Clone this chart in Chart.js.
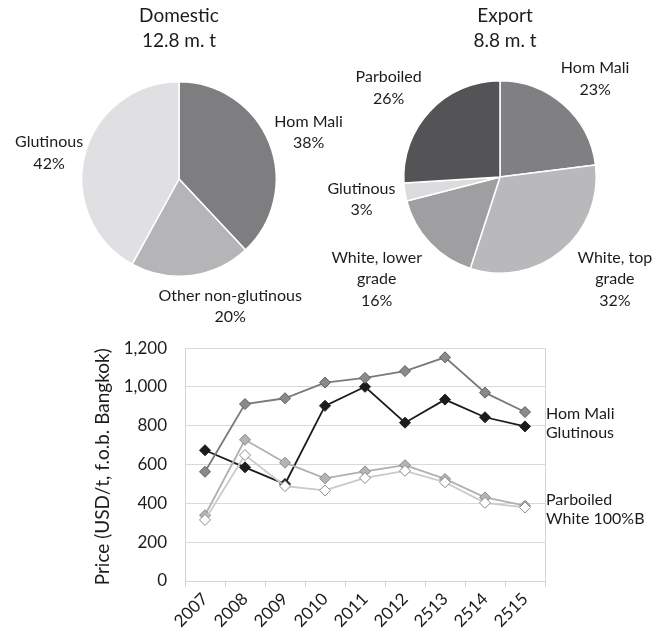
<!DOCTYPE html>
<html>
<head>
<meta charset="utf-8">
<script src="https://cdn.jsdelivr.net/npm/chart.js@4/dist/chart.umd.min.js"></script>
<style>
  html, body { margin: 0; padding: 0; background: #fff; }
  #wrap { position: relative; width: 655px; height: 634px; }
  #wrap canvas { position: absolute; }
  #domestic { left: 0; top: 0; }
  #export { left: 325px; top: 0; }
  #prices { left: 0; top: 320px; }
</style>
</head>
<body>
<div id="wrap">
  <canvas id="domestic" width="380" height="340"></canvas>
  <canvas id="export" width="330" height="340"></canvas>
  <canvas id="prices" width="655" height="314"></canvas>
</div>
<script>
// Rice use shares (%)
const domesticLabels = [['Hom Mali', '38%'], ['Other non-glutinous', '20%'], ['Glutinous', '42%']];
const domesticShares = [38, 20, 42];
const exportLabels = [['Hom Mali', '23%'], ['White, top', 'grade', '32%'], ['White, lower', 'grade', '16%'], ['Glutinous', '3%'], ['Parboiled', '26%']];
const exportShares = [23, 32, 16, 3, 26];

// Export prices, USD/t f.o.b. Bangkok
const years = ['2007', '2008', '2009', '2010', '2011', '2012', '2513', '2514', '2515'];
const homMali   = [563, 912, 942, 1023, 1047, 1082, 1153, 971, 871];
const glutinous = [674, 586, 500, 903, 1001, 816, 935, 844, 797];
const parboiled = [339, 728, 610, 529, 565, 597, 526, 431, 388];
const white100B = [315, 649, 489, 467, 531, 568, 509, 403, 379];
const yTicks = [0, 200, 400, 600, 800, 1000, 1200];

const FONT = 'Lato, "Open Sans", sans-serif';
const TEXT = '#1c1c1c';

// Writes the two-line title and the outside slice labels of a pie
const pieText = {
  id: 'pieText',
  afterDraw(chart, args, opts) {
    const ctx = chart.ctx;
    const arcs = chart.getDatasetMeta(0).data;
    ctx.save();
    ctx.fillStyle = TEXT;
    ctx.textAlign = 'center';
    ctx.textBaseline = 'middle';
    ctx.font = '19px ' + FONT;
    const cx = arcs[0].x;
    opts.title.forEach((t, i) => ctx.fillText(t, cx + opts.titleDx, opts.titleY + i * 25));
    ctx.font = '16px ' + FONT;
    arcs.forEach((arc, i) => {
      const mid = (arc.startAngle + arc.endAngle) / 2;
      const d = arc.outerRadius + 40;
      const nudge = opts.nudge[i];
      const x = arc.x + Math.cos(mid) * d + nudge[0];
      const y = arc.y + Math.sin(mid) * d + nudge[1];
      const lines = opts.labels[i];
      const lh = 21.5;
      lines.forEach((s, k) => ctx.fillText(s, x, y + (k - (lines.length - 1) / 2) * lh));
    });
    ctx.restore();
  }
};

function pie(id, shares, colors, pad, labels, nudge, title, titleDx) {
  new Chart(document.getElementById(id), {
    type: 'pie',
    data: {
      labels: labels.map(l => l[0]),
      datasets: [{ data: shares, backgroundColor: colors, borderColor: '#ffffff', borderWidth: 1.5 }]
    },
    options: {
      responsive: false,
      animation: false,
      layout: { padding: pad },
      plugins: {
        legend: { display: false },
        tooltip: { enabled: false },
        pieText: { labels, nudge, title, titleY: 16, titleDx }
      }
    },
    plugins: [pieText]
  });
}

pie('domestic', domesticShares, ['#7e7e81', '#b5b5b7', '#e0e0e2'],
    { left: 81, right: 103, top: 81, bottom: 63 },
    domesticLabels, [[2, 4], [34, -9], [3, 8]], ['Domestic', '12.8 m. t'], 0);

pie('export', exportShares, ['#808083', '#b9b9bb', '#9f9fa1', '#dcdcde', '#545457'],
    { left: 78, right: 58, top: 80, bottom: 66 },
    exportLabels, [[5, 4], [28, -3], [-24, 9], [-4, 1], [-12, 4]], ['Export', '8.8 m. t'], 5);

// Series names at the right edge of the plot, placed at price levels
const sideLabels = {
  id: 'sideLabels',
  afterDraw(chart, args, opts) {
    const { ctx, chartArea } = chart;
    const y = chart.scales.y;
    ctx.save();
    // right frame line of the plot
    ctx.strokeStyle = '#d4d4d4';
    ctx.lineWidth = 1;
    ctx.beginPath();
    ctx.moveTo(chartArea.right + 0.5, chartArea.top);
    ctx.lineTo(chartArea.right + 0.5, chartArea.bottom);
    ctx.stroke();
    ctx.fillStyle = TEXT;
    ctx.font = '16px ' + FONT;
    ctx.textAlign = 'left';
    ctx.textBaseline = 'middle';
    opts.items.forEach(it => ctx.fillText(it.text, chartArea.right + opts.gap, y.getPixelForValue(it.at)));
    ctx.restore();
  }
};

function series(data, line, fill, border) {
  return {
    data,
    borderColor: line,
    borderWidth: 1.8,
    pointStyle: 'rectRot',
    pointRadius: 5.5,
    pointBackgroundColor: fill,
    pointBorderColor: border,
    pointBorderWidth: 1,
    tension: 0
  };
}

new Chart(document.getElementById('prices'), {
  type: 'line',
  data: {
    labels: years,
    datasets: [
      series(white100B, '#c9c9c9', '#ffffff', '#8a8a8a'),
      series(parboiled, '#b0b0b0', '#b4b4b4', '#8a8a8a'),
      series(homMali, '#7a7a7a', '#8a8a8a', '#5e5e5e'),
      series(glutinous, '#1c1c1c', '#1c1c1c', '#1c1c1c')
    ]
  },
  options: {
    responsive: false,
    animation: false,
    layout: { padding: { top: 23, left: 80, right: 110, bottom: 0 } },
    scales: {
      x: {
        offset: true,
        grid: { offset: true, drawOnChartArea: false, drawTicks: true, tickLength: 6, color: '#d4d4d4' },
        border: { color: '#d4d4d4' },
        ticks: { font: { family: FONT, size: 17 }, color: TEXT, minRotation: 45, maxRotation: 45, autoSkip: false, padding: 2 },
        afterFit(s) { s.height = 53; }
      },
      y: {
        min: 0,
        max: 1200,
        afterBuildTicks(s) { s.ticks = yTicks.map(v => ({ value: v })); },
        grid: { color: '#d9d9d9', drawTicks: false },
        border: { color: '#d4d4d4' },
        ticks: {
          font: { family: FONT, size: 17 }, color: TEXT, padding: 18,
          callback: v => v.toLocaleString('en-US')
        },
        title: {
          display: true, text: 'Price (USD/t, f.o.b. Bangkok)', align: 'end',
          font: { family: FONT, size: 19 }, color: TEXT, padding: { top: 11, bottom: 0 }
        },
        afterFit(s) { s.width = 105; }
      }
    },
    plugins: {
      legend: { display: false },
      tooltip: { enabled: false },
      sideLabels: {
        gap: 1,
        items: [
          { text: 'Hom Mali', at: 864 },
          { text: 'Glutinous', at: 763 },
          { text: 'Parboiled', at: 420 },
          { text: 'White 100%B', at: 318 }
        ]
      }
    }
  },
  plugins: [sideLabels]
});
</script>
</body>
</html>
